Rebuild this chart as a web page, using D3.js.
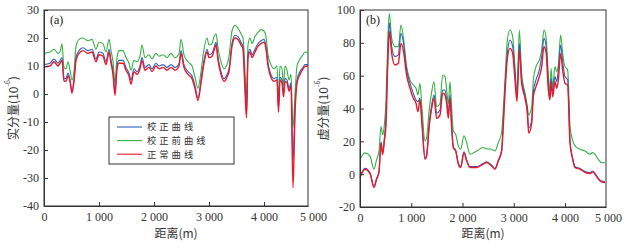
<!DOCTYPE html>
<html>
<head>
<meta charset="utf-8">
<script src="https://cdn.jsdelivr.net/npm/d3@7"></script>
<style>
  body { margin: 0; background: #fff; }
  svg { display: block; }
  .tick text { font-family: "Liberation Serif", "DejaVu Serif", serif; font-size: 12px; fill: #333; }
  .tick line, .domain { stroke: #333; }
</style>
</head>
<body>
<div id="chart"></div>
<script>
// ---- data: panel (a) real part ----
const aDist = [0,109,182,255,291,327,364,400,436,473,509,545,582,636,709,800,873,945,1000,1073,
  1127,1182,1218,1255,1291,1327,1364,1436,1491,1545,1582,1636,1691,1745,1782,1836,1909,1964,2036,2091,
  2164,2236,2309,2382,2455,2491,2545,2618,2691,2745,2800,2855,2909,2964,3000,3055,3091,3127,3164,3218,
  3273,3327,3364,3418,3473,3527,3582,3618,3655,3682,3709,3745,3782,3836,3891,3945,4000,4036,4073,4127,
  4182,4236,4264,4291,4327,4355,4382,4418,4455,4491,4527,4564,4600,4655,4709,4745,4800];
const aBlue = [10.5,11,12.5,11,12,13,5.5,5.5,7.5,5,1,5,13,15.5,16.5,15.5,16,12.5,15,14.5,
  11.5,16,12,8,0.5,10,12,12,9.5,7.5,5,9,8,10,13,9.5,10.5,9,11,10,
  10.5,9.5,10.5,9.5,11,15.5,10.5,8,6.5,3,-1.5,5,12,16,14,14.5,16.5,18.5,13,8,
  5.5,7,9,18,21,20.5,18.5,17,3,-7,14,16,14,16,18,19,19.5,17,11,7,
  5.5,6,-5,6,5,0,5.5,5,2,4,-24,-5,5,8,9.5,10.5,10.5];
const aGreen = [14.5,15,16,14.5,15,17.8,9.5,9,11.5,8.5,5,8,17,19.5,20,19,19.5,16,18.5,18,
  15,19.5,15.5,11.5,4,13,15.5,15.5,13,11,8.5,12,11.5,13.5,17.5,13,14,12.5,14.5,13.5,
  14,13,14.5,13,14.5,19.5,14,11.5,10,6,2,8,16,20,17.5,18,20.5,21.5,16.5,11.5,
  9,10.5,13.5,22.5,24.5,23.5,21.5,20,8,-3,17.5,20,18,20.5,22,23,22.5,20.5,14,10.5,
  9,10,-2,10,9,3,10,8.5,5,7,-12,0,10,12.5,14,15,14.5];
const aRed = [9.7,10,11.5,10,11,12,4.7,4.5,6.5,4.5,0.3,4.5,12,14.5,15.5,14.5,15,11.5,14,13.5,
  10.5,15,11,7,-0.5,9,11,11,8.5,6.5,3.5,8,7,9,12,8.5,9.5,8,10,9,
  9.5,8.5,9.5,8.5,10,14.5,9.5,7,5.5,2,-2.3,4,11,15,13,13.5,15.5,17.5,12,7,
  4.5,6,8,17,20,19.5,17.5,16,1,-8.5,13,15,13,15,17,18,18.5,16,10,6,
  4.5,5,-6.5,5,4,-1,4.5,4,1,3,-33.5,-7,4,7,9,9.8,10];

// ---- data: panel (b) imaginary part ----
const bDist = [0,98,195,273,325,370,410,442,475,507,540,572,618,683,748,800,845,910,975,1040,
  1093,1130,1170,1210,1268,1300,1353,1398,1444,1496,1561,1613,1659,1691,1724,1756,1789,1821,1867,1919,
  1964,2029,2081,2146,2276,2406,2471,2569,2634,2699,2764,2797,2829,2875,2927,2979,3024,3063,3109,3154,
  3220,3265,3291,3350,3382,3434,3499,3545,3590,3629,3675,3707,3727,3760,3805,3837,3870,3915,3954,4000,
  4052,4098,4143,4195,4293,4390,4488,4540,4585,4650,4715,4780];
const bGreen = [9,13,11,3,9,14,29,24,30,45,80,98,82.7,77.7,77.7,90.9,83.8,65.5,57.4,54.3,
  52.3,48.3,55.3,40,20.2,22.2,40,50,56.3,41.1,43,60.4,59.4,51.3,43,56.3,40,26.3,24.3,17.2,
  15.2,23.3,19.3,12.1,14.1,16.2,15.5,15.2,14.1,19.3,25.3,40,57.4,81.7,87.8,83.8,65.5,49.2,87.8,61.4,
  49.2,41.1,36,41.1,57.4,65.5,69.5,75.6,87.8,83.8,61.4,49.2,64.5,53.3,65.5,62.4,66.5,84.8,73.6,65.5,
  63.5,29.3,21.3,17.2,15.2,14.1,12.1,13.1,12.1,9,7,7];
const bBlue = [-1.5,3.5,0.8,-7.5,-2.5,1.5,19.5,12.5,22,35,70,92,77.7,71.6,72.6,85.8,80.7,63.5,55.4,49.2,
  45.2,44.2,46.2,32,9.6,11.6,32,42,48.2,37.1,39.1,51.3,51.3,45.2,37,48.2,30,16.6,14.6,6.6,
  4.6,13.6,8.6,4.6,4.6,6.6,7.6,5.5,3.5,8.6,14.6,33,53.3,73.6,81.7,77.7,61.4,47.2,79.7,57.4,
  48.2,39.1,28,33,50.3,57.4,63.5,71.6,82.7,78.7,55.4,46.2,58.4,50.3,59.4,56.4,63.5,78.7,68.6,59.4,
  57.4,19.6,10.6,4.6,3.5,1.6,0.9,1.9,0.5,-2.5,-4.2,-4.6];
const bRed = [-2,3,0.3,-8.2,-3,1,19,12,20,30,65,87,73.6,66.5,67.5,79.7,75.6,60.4,52.3,46.2,
  43.2,38.1,45.2,30,9.1,11.1,30,40,46.2,34,36.1,49.3,48.2,43.2,34,46.2,28,16.1,14.1,6.1,
  4.1,13.1,8.1,4.1,4.1,6.1,7.1,5,3,8.1,14.1,30,49.3,70.6,76.6,73.6,57.4,44.2,75.6,55.4,
  46.2,37.1,25,31,47.2,53.3,59.4,65.5,77.7,74.6,51.3,45.2,56.4,47.2,56.4,52.3,57.4,73.6,63.5,55.4,
  54.3,19.1,10.1,4.1,3,1.1,0.4,1.4,0,-3,-4.7,-5.1];

const seriesNames = ["校正曲线", "校正前曲线", "正常曲线"];
const seriesColors = ["#2c5fc0", "#35b043", "#e8192c"];
const xTickVals = [0, 1000, 2000, 3000, 4000, 4800];
const xTickLabels = ["0", "1 000", "2 000", "3 000", "4 000", "5 000"];
const aYTicks = [-40, -30, -20, -10, 0, 10, 20, 30];
const bYTicks = [-20, 0, 20, 40, 60, 80, 100];

const W = 627, H = 252;
const svg = d3.select("#chart").append("svg")
  .attr("width", W).attr("height", H)
  .style("background", "#fff");

function drawPanel(cfg) {
  const x = d3.scaleLinear().domain([0, 4800]).range([cfg.left, cfg.right]);
  const y = d3.scaleLinear().domain(cfg.yDomain).range([cfg.bottom, cfg.top]);
  const g = svg.append("g");

  // frame
  g.append("rect")
    .attr("x", cfg.left).attr("y", cfg.top)
    .attr("width", cfg.right - cfg.left).attr("height", cfg.bottom - cfg.top)
    .attr("fill", "none").attr("stroke", "#333").attr("stroke-width", 1);

  const line = d3.line()
    .x((d, i) => x(cfg.dist[i]))
    .y(d => y(d))
    .curve(d3.curveMonotoneX);

  // order: green under, blue, red on top
  [[cfg.green, 1], [cfg.blue, 0], [cfg.red, 2]].forEach(([vals, k]) => {
    g.append("path")
      .datum(vals)
      .attr("d", line)
      .attr("fill", "none")
      .attr("stroke", seriesColors[k])
      .attr("stroke-width", k === 2 ? 1.4 : 1.1);
  });

  const xAxis = g.append("g")
    .attr("transform", `translate(0,${cfg.bottom})`)
    .call(d3.axisBottom(x).tickValues(xTickVals)
      .tickFormat((d, i) => xTickLabels[i])
      .tickSizeInner(-4).tickSizeOuter(0).tickPadding(6));
  xAxis.selectAll(".tick").filter(d => d === 4800).select("text").attr("dx", cfg.lastDx);
  xAxis.selectAll(".tick").filter(d => d === 4800).select("line").remove();

  g.append("g")
    .attr("transform", `translate(${cfg.left},0)`)
    .call(d3.axisLeft(y).tickValues(cfg.yTicks)
      .tickFormat(d => String(d))
      .tickSizeInner(-4).tickSizeOuter(0).tickPadding(5));

  // panel tag
  g.append("text")
    .attr("x", cfg.left + 6).attr("y", cfg.top + 14)
    .attr("font-family", "Liberation Serif, serif").attr("font-size", 12).attr("fill", "#222")
    .text(cfg.tag);

  // x title
  g.append("text")
    .attr("x", (cfg.left + cfg.right) / 2).attr("y", 238)
    .attr("text-anchor", "middle")
    .attr("font-family", "Noto Sans CJK SC, sans-serif").attr("font-size", 12).attr("fill", "#333")
    .text("距离(m)");

  // y title
  const yt = g.append("text")
    .attr("transform", `translate(${cfg.yTitleX},${(cfg.top + cfg.bottom) / 2}) rotate(-90)`)
    .attr("text-anchor", "middle").attr("dominant-baseline", "central")
    .attr("font-family", "Noto Sans CJK SC, sans-serif").attr("font-size", 12).attr("fill", "#333");
  yt.append("tspan").text(cfg.yTitle + "(10");
  yt.append("tspan").attr("font-size", 7).attr("dy", -5).text("-6");
  yt.append("tspan").attr("dy", 5).text(")");
  return { x, y };
}

drawPanel({
  left: 44, right: 308, top: 10, bottom: 206,
  yDomain: [-40, 30], yTicks: aYTicks,
  dist: aDist, blue: aBlue, green: aGreen, red: aRed,
  tag: "(a)", yTitle: "实分量", yTitleX: 12, lastDx: 5
});

drawPanel({
  left: 360, right: 606, top: 10, bottom: 207,
  yDomain: [-20, 100], yTicks: bYTicks,
  dist: bDist, blue: bBlue, green: bGreen, red: bRed,
  tag: "(b)", yTitle: "虚分量", yTitleX: 322, lastDx: 2
});

// legend in panel (a)
const leg = svg.append("g").attr("transform", "translate(109,117)");
leg.append("rect").attr("width", 125).attr("height", 47)
  .attr("fill", "#fff").attr("stroke", "#333").attr("stroke-width", 1);
seriesNames.forEach((name, i) => {
  const yy = 10 + i * 13.6;
  leg.append("line").attr("x1", 8).attr("x2", 33).attr("y1", yy).attr("y2", yy)
    .attr("stroke", seriesColors[i]).attr("stroke-width", 1.1);
  leg.append("text").attr("x", 38).attr("y", yy + 3.3)
    .attr("font-family", "Noto Sans CJK SC, sans-serif").attr("font-size", 9.3)
    .attr("letter-spacing", 3).attr("fill", "#333")
    .text(name);
});
</script>
</body>
</html>
